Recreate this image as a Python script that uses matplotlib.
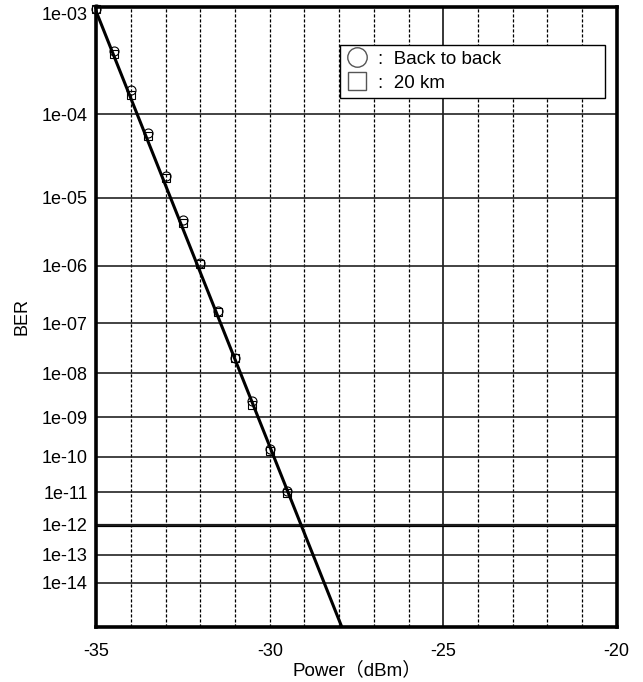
import numpy as np
import matplotlib
matplotlib.use("Agg")
import matplotlib.pyplot as plt
from matplotlib.lines import Line2D
from matplotlib.ticker import FixedLocator, FixedFormatter, MultipleLocator, NullLocator

plt.rcParams['font.family'] = ['Liberation Sans', 'Noto Sans CJK JP', 'DejaVu Sans']
plt.rcParams['axes.unicode_minus'] = False

# measured points
power = [-35, -34.5, -34, -33.5, -33, -32.5, -32, -31.5, -31, -30.5, -30, -29.5]
ber_b2b = [9.5e-4, 4.2e-4, 1.8e-4, 6.3e-5, 1.9e-5, 5.0e-6, 1.1e-6, 1.7e-7, 2.1e-8, 2.4e-9, 1.6e-10, 1.1e-11]
ber_20km = [9.5e-4, 3.9e-4, 1.6e-4, 5.7e-5, 1.8e-5, 4.5e-6, 1.05e-6, 1.6e-7, 2.1e-8, 2.0e-9, 1.45e-10, 9.5e-12]

# fitted line (ends)
fit_power = [-35, -27.92]
fit_ber = [9.1e-4, 10 ** -15.78]

ytick_vals = [10.0 ** -k for k in range(3, 15)]
ytick_labels = ["1e-%02d" % k for k in range(3, 15)]
xtick_vals = [-35, -30, -25, -20]


# BER scale: log(-log(BER))
def fwd(y):
    with np.errstate(all='ignore'):
        return -np.log10(-np.log10(y))


def inv(f):
    with np.errstate(all='ignore'):
        return 10.0 ** (-(10.0 ** (-f)))


fig = plt.figure(figsize=(6.43, 6.82), dpi=100)
ax = fig.add_axes([96.3 / 643, 1 - 627.3 / 682, 520.4 / 643, 620.6 / 682])
ax.set_yscale('function', functions=(fwd, inv))
ax.set_xlim(-35, -20)
ax.set_ylim(10 ** -15.78, 1e-3)

ax.yaxis.set_major_locator(FixedLocator(ytick_vals))
ax.yaxis.set_major_formatter(FixedFormatter(ytick_labels))
ax.yaxis.set_minor_locator(NullLocator())
ax.xaxis.set_major_locator(FixedLocator(xtick_vals))
ax.xaxis.set_minor_locator(MultipleLocator(1))

ax.tick_params(which='both', length=0, labelsize=13)
ax.tick_params(axis='x', pad=11)
ax.tick_params(axis='y', pad=6)
ax.yaxis.get_major_ticks()[0].label1.set_verticalalignment('top')

# grid
ax.grid(True, which='major', axis='y', color='#222222', lw=1.2)
ax.grid(True, which='minor', axis='x', color='black', lw=0.9, ls=(0, (2.5, 1.5)))
ax.axvline(-30, color='black', lw=0.9, ls=(0, (2.5, 1.5)), zorder=0.5)
ax.axvline(-25, color='black', lw=1.1, zorder=0.5)
ax.axhline(1e-12, color='black', lw=2.3, zorder=1)

for s in ax.spines.values():
    s.set_linewidth(2.6)
    s.set_zorder(5)

ax.plot(fit_power, fit_ber, color='black', lw=2.2, zorder=3, clip_on=True)
ax.plot(power, ber_b2b, ls='', marker='o', ms=6.5, mfc='none', mec='black', mew=0.8, zorder=4, clip_on=False)
ax.plot(power, ber_20km, ls='', marker='s', ms=6, mfc='none', mec='black', mew=0.8, zorder=4, clip_on=False)

ax.set_xlabel('Power（dBm）', fontsize=13.5, labelpad=1)
ax.set_ylabel('BER', fontsize=13, labelpad=8)

handles = [
    Line2D([], [], ls='', marker='o', ms=14, mfc='white', mec='#555555', mew=1.0),
    Line2D([], [], ls='', marker='s', ms=13, mfc='white', mec='#555555', mew=1.0),
]
leg = ax.legend(handles, [':  Back to back', ':  20 km'],
                loc='upper left', bbox_to_anchor=(0.4683, 0.8534, 0.5097, 0.0849),
                mode='expand', fontsize=13.5, frameon=True, fancybox=False,
                edgecolor='black', framealpha=1, borderpad=0.3, labelspacing=0.38,
                handlelength=1.2, handletextpad=0.5, borderaxespad=0)
leg.get_frame().set_linewidth(1.0)
leg.set_zorder(6)

fig.savefig('out.png', dpi=100)
